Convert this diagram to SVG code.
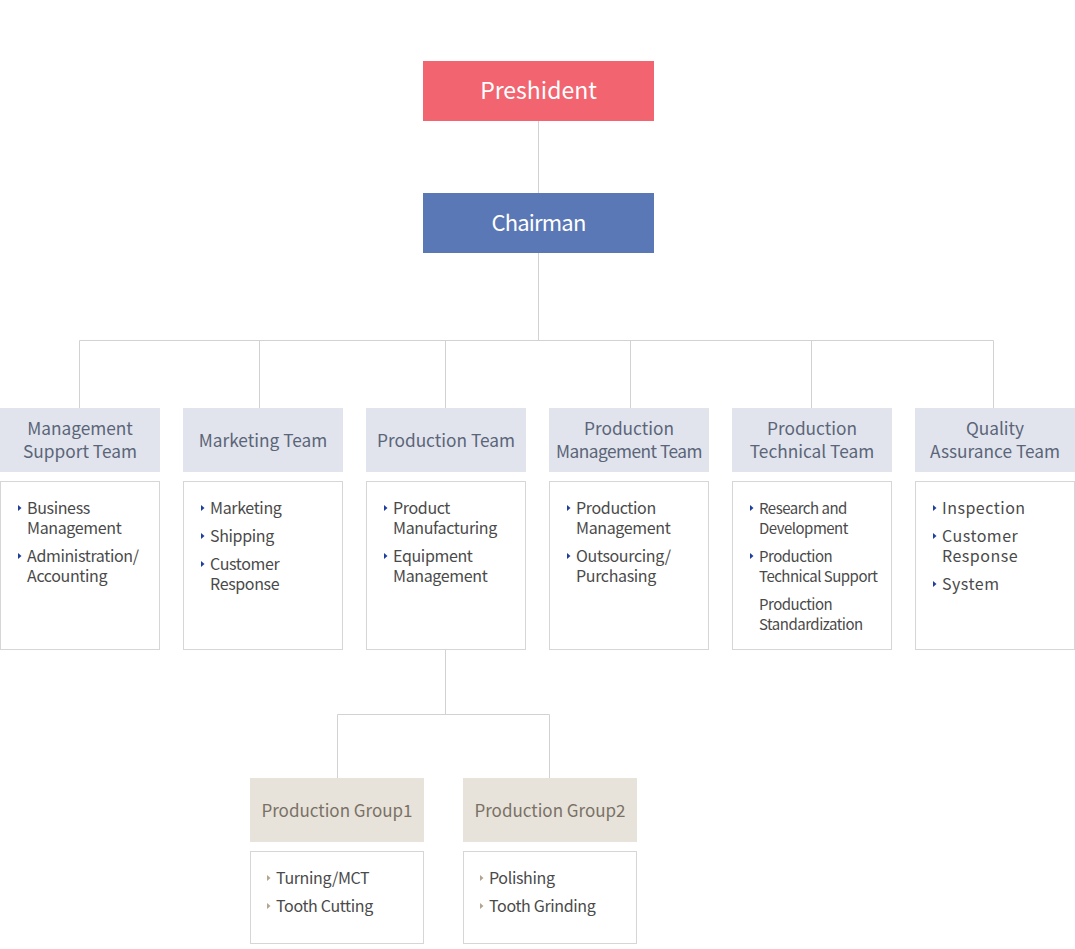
<svg xmlns="http://www.w3.org/2000/svg" width="1075" height="949" viewBox="0 0 1075 949">
<defs>
<style>
text{font-family:"Noto Sans CJK KR","Noto Sans",sans-serif;}
.line{stroke:#d2d2d2;stroke-width:1;fill:none;}
.top{font-size:23px;fill:#ffffff;text-anchor:middle;}
.th{fill:#e1e4ec;}
.tht{font-size:17.3px;fill:#5b6579;text-anchor:middle;}
.body{fill:#ffffff;stroke:#d6d6d6;stroke-width:1;}
.bt{font-size:16px;fill:#4a4a4a;letter-spacing:-0.35px;}
.bt5{font-size:15px;letter-spacing:-0.5px;}
.bt6{letter-spacing:0.5px;}
.bb{fill:#1f3f9e;}
.gh{fill:#e7e3da;}
.ght{font-size:17px;fill:#7a7166;text-anchor:middle;}
.gb{fill:#b3a58f;}
</style>
<polygon id="tri" points="0,-3 3.5,0 0,3"/>
</defs>
<g id="connectors">
<path class="line" d="M538.5 121V193M538.5 253V340.5M79.5 340.5H993.5M79.5 340.5V408M259.5 340.5V408M445.5 340.5V408M630.5 340.5V408M811.5 340.5V408M993.5 340.5V408"/>
<path class="line" d="M445.5 649V714.5M337.5 714.5H549.5M337.5 714.5V778M549.5 714.5V778"/>
</g>
<g id="president">
<rect x="423" y="61" width="231" height="60" fill="#f26570"/>
<text class="top" x="538.5" y="99">Preshident</text>
</g>
<g id="chairman">
<rect x="423" y="193" width="231" height="60" fill="#5a78b5"/>
<text class="top" x="538.5" y="231" style="font-size:22px;letter-spacing:-0.8px">Chairman</text>
</g>
<g id="team1">
<rect class="th" x="0" y="408" width="160" height="64"/>
<text class="tht" x="80" y="435">Management</text>
<text class="tht" x="80" y="458">Support Team</text>
<rect class="body" x="0.5" y="481.5" width="159" height="168"/>
<use href="#tri" class="bb" x="18" y="508"/>
<text class="bt" x="27" y="514">Business</text>
<text class="bt" x="27" y="534">Management</text>
<use href="#tri" class="bb" x="18" y="556"/>
<text class="bt" x="27" y="562">Administration/</text>
<text class="bt" x="27" y="582">Accounting</text>
</g>
<g id="team2">
<rect class="th" x="183" y="408" width="160" height="64"/>
<text class="tht" x="263" y="447">Marketing Team</text>
<rect class="body" x="183.5" y="481.5" width="159" height="168"/>
<use href="#tri" class="bb" x="201" y="508"/>
<text class="bt" x="210" y="514">Marketing</text>
<use href="#tri" class="bb" x="201" y="536"/>
<text class="bt" x="210" y="542">Shipping</text>
<use href="#tri" class="bb" x="201" y="564"/>
<text class="bt" x="210" y="570">Customer</text>
<text class="bt" x="210" y="590">Response</text>
</g>
<g id="team3">
<rect class="th" x="366" y="408" width="160" height="64"/>
<text class="tht" x="446" y="447">Production Team</text>
<rect class="body" x="366.5" y="481.5" width="159" height="168"/>
<use href="#tri" class="bb" x="384" y="508"/>
<text class="bt" x="393" y="514">Product</text>
<text class="bt" x="393" y="534">Manufacturing</text>
<use href="#tri" class="bb" x="384" y="556"/>
<text class="bt" x="393" y="562">Equipment</text>
<text class="bt" x="393" y="582">Management</text>
</g>
<g id="team4">
<rect class="th" x="549" y="408" width="160" height="64"/>
<text class="tht" x="629" y="435">Production</text>
<text class="tht" x="629" y="458" style="letter-spacing:-0.5px">Management Team</text>
<rect class="body" x="549.5" y="481.5" width="159" height="168"/>
<use href="#tri" class="bb" x="567" y="508"/>
<text class="bt" x="576" y="514">Production</text>
<text class="bt" x="576" y="534">Management</text>
<use href="#tri" class="bb" x="567" y="556"/>
<text class="bt" x="576" y="562">Outsourcing/</text>
<text class="bt" x="576" y="582">Purchasing</text>
</g>
<g id="team5">
<rect class="th" x="732" y="408" width="160" height="64"/>
<text class="tht" x="812" y="435">Production</text>
<text class="tht" x="812" y="458">Technical Team</text>
<rect class="body" x="732.5" y="481.5" width="159" height="168"/>
<use href="#tri" class="bb" x="750" y="508"/>
<text class="bt bt5" x="759" y="514">Research and</text>
<text class="bt bt5" x="759" y="534">Development</text>
<use href="#tri" class="bb" x="750" y="556"/>
<text class="bt bt5" x="759" y="562">Production</text>
<text class="bt bt5" x="759" y="582">Technical Support</text>
<text class="bt bt5" x="759" y="610">Production</text>
<text class="bt bt5" x="759" y="630">Standardization</text>
</g>
<g id="team6">
<rect class="th" x="915" y="408" width="160" height="64"/>
<text class="tht" x="995" y="435">Quality</text>
<text class="tht" x="995" y="458">Assurance Team</text>
<rect class="body" x="915.5" y="481.5" width="159" height="168"/>
<use href="#tri" class="bb" x="933" y="508"/>
<text class="bt bt6" x="942" y="514">Inspection</text>
<use href="#tri" class="bb" x="933" y="536"/>
<text class="bt bt6" x="942" y="542">Customer</text>
<text class="bt bt6" x="942" y="562">Response</text>
<use href="#tri" class="bb" x="933" y="584"/>
<text class="bt bt6" x="942" y="590">System</text>
</g>
<g id="group1">
<rect class="gh" x="250" y="778" width="174" height="64"/>
<text class="ght" x="337" y="817">Production Group1</text>
<rect class="body" x="250.5" y="851.5" width="173" height="92"/>
<use href="#tri" class="gb" x="267" y="878"/>
<text class="bt" x="276" y="884">Turning/MCT</text>
<use href="#tri" class="gb" x="267" y="906"/>
<text class="bt" x="276" y="912">Tooth Cutting</text>
</g>
<g id="group2">
<rect class="gh" x="463" y="778" width="174" height="64"/>
<text class="ght" x="550" y="817">Production Group2</text>
<rect class="body" x="463.5" y="851.5" width="173" height="92"/>
<use href="#tri" class="gb" x="480" y="878"/>
<text class="bt" x="489" y="884">Polishing</text>
<use href="#tri" class="gb" x="480" y="906"/>
<text class="bt" x="489" y="912">Tooth Grinding</text>
</g>
</svg>
